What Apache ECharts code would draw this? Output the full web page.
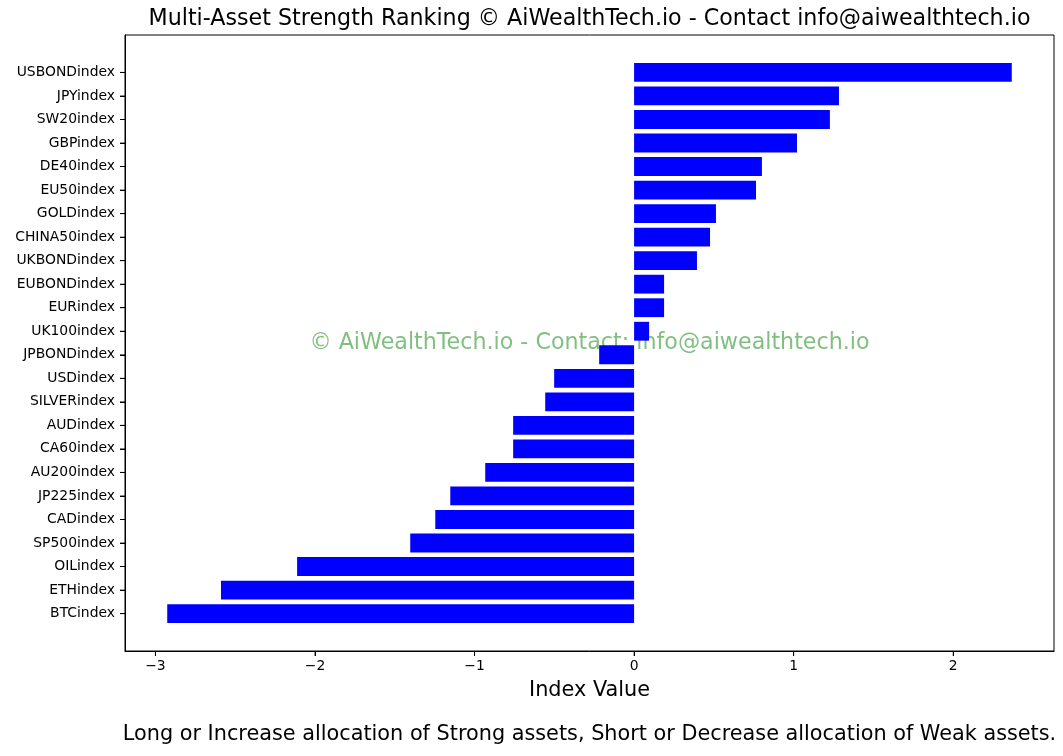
<!DOCTYPE html>
<html>
<head>
<meta charset="utf-8">
<script src="https://cdn.jsdelivr.net/npm/echarts@6/dist/echarts.min.js"></script>
<style>
html,body{margin:0;padding:0;background:#fff;}
#chart{width:1063px;height:756px;}
</style>
</head>
<body>
<div id="chart"></div>
<script>
const categories = ["USBONDindex","JPYindex","SW20index","GBPindex","DE40index","EU50index","GOLDindex","CHINA50index","UKBONDindex","EUBONDindex","EURindex","UK100index","JPBONDindex","USDindex","SILVERindex","AUDindex","CA60index","AU200index","JP225index","CADindex","SP500index","OILindex","ETHindex","BTCindex"];
const values = [2.367, 1.284, 1.227, 1.021, 0.801, 0.764, 0.513, 0.476, 0.394, 0.188, 0.188, 0.094, -0.219, -0.501, -0.557, -0.758, -0.758, -0.933, -1.152, -1.246, -1.403, -2.112, -2.589, -2.926];
const xTicks = [-3, -2, -1, 0, 1, 2];
const titleText = "Multi-Asset Strength Ranking © AiWealthTech.io - Contact info@aiwealthtech.io";
const watermarkText = "© AiWealthTech.io - Contact: info@aiwealthtech.io";
const xLabelText = "Index Value";
const footerText = "Long or Increase allocation of Strong assets, Short or Decrease allocation of Weak assets.";

const vMin = Math.min(0, ...values), vMax = Math.max(0, ...values);
const pad = (vMax - vMin) * 0.05;
const xMin = vMin - pad, xMax = vMax + pad;

const n = categories.length;
const catIdx = categories.map((c, i) => i);
const ySpan = (n - 1) + 0.8;
const yMin = -0.4 - 0.05 * ySpan, yMax = (n - 1) + 0.4 + 0.05 * ySpan;

const FONT = "DejaVu Sans";
const fmt = v => (v < 0 ? "\u2212" + Math.abs(v) : String(v));

const L = 125, T = 35, W = 929, H = 616;
const band = H / (yMax - yMin);
const inner = band * n;
const innerTop = T + (-0.5 - yMin) * band;

const chart = echarts.init(document.getElementById('chart'), null, {renderer: 'canvas'});
chart.setOption({
  backgroundColor: '#ffffff',
  animation: false,
  textStyle: {fontFamily: FONT},
  grid: [
    {left: L, top: T, width: W, height: H, show: true, borderColor: '#000', borderWidth: 1, backgroundColor: 'transparent'},
    {left: L, top: innerTop, width: W, height: inner},
    {left: L, top: T, width: W, height: H}
  ],
  xAxis: [
    {gridIndex: 0, type: 'value', min: xMin, max: xMax,
     axisLine: {show: true, onZero: true, lineStyle: {color: '#000', width: 1}}, splitLine: {show: false},
     axisTick: {show: true, inside: false, length: 5, customValues: xTicks, lineStyle: {color: '#000', width: 1}},
     axisLabel: {show: true, customValues: xTicks, formatter: fmt, color: '#000', fontSize: 13.9, fontFamily: FONT, margin: 8},
     name: xLabelText, nameLocation: 'middle', nameGap: 29,
     nameTextStyle: {color: '#000', fontSize: 20.8, fontFamily: FONT}
    },
    {gridIndex: 1, type: 'value', min: xMin, max: xMax, show: false},
    {gridIndex: 2, type: 'value', min: 0, max: 1, show: false}
  ],
  yAxis: [
    {gridIndex: 0, type: 'value', min: 0, max: 1, show: false},
    {gridIndex: 1, type: 'category', data: categories, inverse: true, show: false},
    {gridIndex: 2, type: 'value', min: yMin, max: yMax, inverse: true, position: 'left',
     axisLine: {show: true, onZero: true, lineStyle: {color: '#000', width: 1}}, splitLine: {show: false},
     axisTick: {show: true, inside: false, length: 5, customValues: catIdx, lineStyle: {color: '#000', width: 1}},
     axisLabel: {show: true, customValues: catIdx, formatter: v => categories[Math.round(v)], color: '#000', fontSize: 13.9, fontFamily: FONT, margin: 10}
    }
  ],
  graphic: [
    {type: 'text', x: L + W / 2, y: 19, z: 5, style: {text: titleText, fill: '#000', font: '22.2px "DejaVu Sans"', align: 'center', verticalAlign: 'middle'}},
    {type: 'text', x: L + W / 2, y: T + H / 2, z: 0, zlevel: 0, silent: true,
     style: {text: watermarkText, fill: 'rgba(0,128,0,0.5)', font: '22.2px "DejaVu Sans"', align: 'center', verticalAlign: 'middle'}},
    {type: 'text', x: L + W / 2, y: 735, z: 5, style: {text: footerText, fill: '#000', font: '20.8px "DejaVu Sans"', align: 'center', verticalAlign: 'middle'}}
  ],
  series: [
    {type: 'bar', xAxisIndex: 1, yAxisIndex: 1, data: values, barWidth: '80%', z: 10,
     itemStyle: {color: '#0000ff'}},
    {type: 'scatter', name: 'yTickMarks', xAxisIndex: 2, yAxisIndex: 2, clip: false, silent: true, z: 3,
     data: catIdx.map(i => [0, i]), symbol: 'rect', symbolSize: [5, 1], symbolOffset: [-2.5, 0],
     itemStyle: {color: '#000'}, emphasis: {disabled: true}, tooltip: {show: false}},
    {type: 'scatter', name: 'xTickMarks', xAxisIndex: 0, yAxisIndex: 0, clip: false, silent: true, z: 3,
     data: xTicks.map(v => [v, 0]), symbol: 'rect', symbolSize: [1, 5], symbolOffset: [0, 2.5],
     itemStyle: {color: '#000'}, emphasis: {disabled: true}, tooltip: {show: false}}
  ]
});
</script>
</body>
</html>
